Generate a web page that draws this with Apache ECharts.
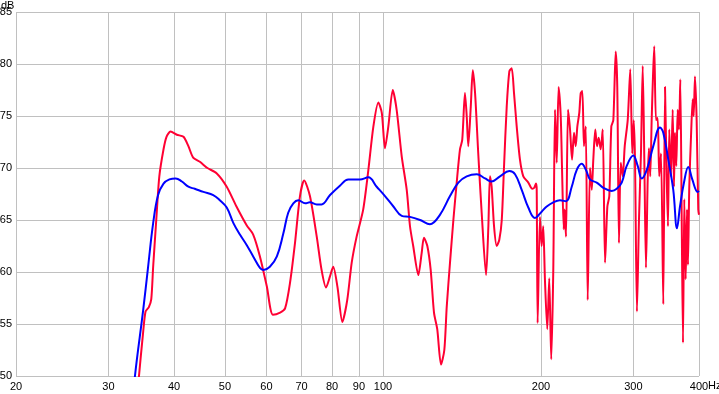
<!DOCTYPE html>
<html>
<head>
<meta charset="utf-8">
<script src="https://cdn.jsdelivr.net/npm/echarts@6/dist/echarts.min.js"></script>
<style>
    html, body { margin: 0; padding: 0; background: #fff; }
    #chart { width: 719px; height: 394px; }
</style>
</head>
<body>
<div id="chart"></div>
<script>
    // frequency ticks shown on the log axis (Hz)
    var freqTicks = [20, 30, 40, 50, 60, 70, 80, 90, 100, 200, 300, 400];

    // raw response: frequency (Hz) and level (dB)
    var rawFreq = [
        33.8, 34.3, 34.9, 35.3, 35.8, 36.2, 36.5, 37.0, 37.5, 38.2, 38.7, 39.4, 40.5, 41.7, 42.6, 43.5,
        44.8, 46.3, 48.2, 50.4, 52.6, 55.0, 56.6, 58.3, 60.1, 61.7, 63.7, 65.1, 66.5, 68.0, 69.5, 70.8,
        72.6, 74.8, 76.4, 77.9, 79.3, 80.4, 81.9, 83.7, 85.5, 87.2, 89.1, 91.7, 93.8, 95.9, 98.0, 99.5,
        100.9, 102.4, 104.4, 106.2, 108.6, 111.0, 112.6, 114.2, 116.8, 118.5, 119.7, 121.5, 123.3, 125.1,
        126.9, 129.0, 130.9, 132.3, 134.2, 136.2, 138.2, 140.2, 141.6, 143.3, 144.4, 145.4, 147.0, 148.3,
        149.8, 151.9, 154.2, 157.2, 158.8, 159.9, 161.1, 162.8, 164.7, 166.6, 168.4, 170.1, 172.1, 174.1,
        175.9, 177.7, 179.8, 182.4, 185.1, 189.2, 192.5, 194.2, 195.7, 196.3, 197.1, 199.1, 200.6, 202.0,
        203.5, 205.6, 207.4, 209.2, 211.1, 212.7, 214.3, 216.1, 218.1, 219.3, 221.0, 221.9, 223.2, 225.2,
        227.2, 229.2, 231.2, 232.9, 234.6, 236.6, 238.1, 239.8, 241.5, 243.4, 245.5, 248.0, 249.9, 251.6,
        253.8, 255.7, 257.6, 259.9, 262.2, 264.9, 267.6, 269.9, 272.3, 274.7, 277.6, 279.5, 281.6, 283.8,
        286.3, 288.8, 292.6, 295.9, 298.5, 300.4, 302.1, 304.7, 307.4, 310.1, 312.5, 314.7, 317.0, 319.4,
        321.2, 323.0, 325.0, 326.9, 328.7, 331.2, 333.7, 336.0, 338.6, 342.0, 344.6, 347.1, 349.1, 351.1,
        353.7, 356.4, 358.4, 360.0, 362.1, 364.3, 366.4, 368.5, 370.8, 372.9, 375.0, 377.3, 379.5, 381.1,
        383.3, 386.2, 389.1, 390.8, 393.0, 395.9, 398.7, 400
    ];
    var rawDb = [
        46, 50, 54, 56.2, 56.6, 57.4, 60.5, 65.0, 69.2, 71.8, 73.0, 73.5, 73.2, 73.0, 72.1, 71.0,
        70.6, 70.0, 69.5, 68.2, 66.3, 64.5, 63.6, 61.5, 58.6, 55.9, 56.1, 56.5, 58.9, 62.8, 67.3, 68.8,
        67.3, 63.4, 60.2, 58.5, 59.6, 60.5, 58.6, 55.2, 57.3, 60.9, 63.4, 66.0, 69.8, 74.0, 76.3, 75.3,
        71.9, 74.0, 77.5, 75.6, 71.1, 67.9, 64.4, 62.5, 59.7, 61.8, 63.3, 62.5, 60.2, 56.1,
        54.5, 51.1, 52.5, 56.7, 60.9, 65.0, 68.6, 71.8, 72.7, 77.2, 75.0, 72.1, 75.9, 79.4,
        77.2, 71.4, 65.7, 59.7, 64.4, 69.2, 68.2, 64.4, 62.5, 63.1, 65.0, 70.2, 75.9, 79.3,
        79.6, 77.2, 74.0, 70.8, 69.2, 68.6, 68.0, 68.1, 68.5, 67.9, 55.1, 65.3, 62.5, 64.4,
        59.3, 54.5, 59.4, 51.6, 60.2, 75.6, 70.5, 77.8, 75.0, 70.2, 64.1, 66.0, 63.4, 75.6,
        73.7, 70.8, 73.4, 72.1, 74.0, 75.3, 77.2, 77.4, 72.1, 74.0, 57.3, 70.0, 67.9, 70.8,
        73.7, 72.1, 72.9, 71.8, 73.7, 60.9, 66.3, 67.3, 74.0, 74.6, 81.2, 77.8, 62.8, 70.5,
        69.2, 72.1, 74.6, 79.5, 71.4, 74.6, 70.8, 56.2, 65.0, 71.4, 79.8, 70.8, 60.4, 68.9,
        71.9, 69.2, 74.6, 78.8, 81.7, 74.6, 74.8, 69.2, 71.4, 56.9, 77.8, 69.2, 64.4, 73.7,
        69.2, 75.6, 68.2, 73.4, 70.2, 75.6, 73.7, 78.5, 65.0, 53.2, 67.0, 59.3, 66.0, 60.7,
        68.2, 73.0, 76.6, 75.0, 78.8, 74.6, 66.0, 65.5
    ];

    // smoothed response
    var smoothFreq = [
        33.2, 33.7, 34.95, 35.7, 36.5, 37.3, 38.2, 39.2, 40.3, 41.4, 42.6, 43.8, 45.5, 47.5, 48.9, 50.4,
        51.9, 53.4, 55.0, 56.6, 58.3, 59.2, 60.9, 62.8, 64.6, 66.0, 67.5, 69.0, 71.1, 72.6, 74.8, 76.4,
        79.3, 82.8, 85.9, 90.4, 93.8, 97.3, 100.9, 104.7, 108.6, 112.6, 117.7, 122.9, 128.4, 134.2,
        139.2, 144.4, 150.9, 156.5, 161.1, 167.1, 174.1, 178.5, 183.8, 189.2, 194.8, 200.6, 205.1, 211.1,
        217.4, 223.2, 228.9, 233.9, 239.1, 243.7, 248.0, 255.4, 262.9, 272.8, 278.8, 285.0, 291.3, 299.8,
        305.7, 311.1, 318.0, 327.3, 337.1, 342.0, 349.6, 357.3, 363.2, 368.0, 374.5, 381.6, 388.4, 397.7, 400
    ];
    var smoothDb = [
        46, 50, 56.4, 60.5, 64.7, 67.4, 68.5, 68.9, 69.0, 68.7, 68.2, 68.0, 67.7, 67.4, 66.9, 66.2,
        64.7, 63.6, 62.6, 61.5, 60.4, 60.2, 60.5, 61.5, 63.7, 65.7, 66.6, 66.9, 66.6, 66.7, 66.5, 66.5,
        67.4, 68.3, 68.9, 68.9, 69.1, 68.2, 67.3, 66.3, 65.4, 65.3, 65.0, 64.6, 65.5, 67.3,
        68.6, 69.2, 69.4, 69.0, 68.7, 69.2, 69.7, 69.4, 67.9, 66.2, 65.2, 65.8, 66.3, 66.7,
        66.9, 66.8, 68.2, 69.8, 70.4, 69.8, 68.9, 68.6, 68.1, 67.8, 68.0, 68.6, 70.2, 71.2,
        70.2, 69.0, 69.8, 72.1, 73.9, 73.4, 70.8, 67.9, 64.2, 66.3, 68.6, 70.1, 68.9, 67.7, 67.8
    ];

    function pairs(xs, ys) {
        return xs.map(function (x, i) { return [x, ys[i]]; });
    }

    var gridColor = '#c0c0c0';
    var font = { color: '#000', fontSize: 11, fontFamily: 'Liberation Sans, Arial, sans-serif' };

    var chart = echarts.init(document.getElementById('chart'), null, { renderer: 'canvas' });

    chart.setOption({
        animation: false,
        grid: { left: 16, right: 20, top: 12, bottom: 18, containLabel: false, outerBoundsMode: 'none' },
        // unit label of the level axis, placed above the "85" tick
        graphic: [{
            type: 'text',
            left: 1,
            top: 0,
            style: { text: 'dB', fill: font.color, font: '11px Liberation Sans, Arial, sans-serif' }
        }],
        xAxis: {
            type: 'log',
            logBase: 10,
            min: 20,
            max: 400,
            name: 'Hz',
            nameLocation: 'end',
            nameGap: 9,
            nameMoveOverlap: false,
            nameTextStyle: Object.assign({ align: 'left', verticalAlign: 'top', padding: [4, 0, 0, 0] }, font),
            axisLine: { show: false },
            axisTick: { show: false, customValues: freqTicks },
            axisLabel: Object.assign({ customValues: freqTicks, margin: 5, formatter: function (v) { return String(Math.round(v)); } }, font),
            splitLine: { show: true, lineStyle: { color: gridColor, width: 1 } }
        },
        yAxis: {
            type: 'value',
            min: 50,
            max: 85,
            interval: 5,
            axisLine: { show: false },
            axisTick: { show: false },
            axisLabel: Object.assign({ margin: 4 }, font),
            splitLine: { show: true, lineStyle: { color: gridColor, width: 1 } }
        },
        series: [
            {
                name: 'raw',
                type: 'line',
                data: pairs(rawFreq, rawDb),
                showSymbol: false,
                smooth: 0.25,
                clip: true,
                lineStyle: { color: '#ff0033', width: 2 }
            },
            {
                name: 'smoothed',
                type: 'line',
                data: pairs(smoothFreq, smoothDb),
                showSymbol: false,
                smooth: 0.4,
                clip: true,
                lineStyle: { color: '#0000ff', width: 2 }
            }
        ]
    });

    window.addEventListener('resize', function () {
        chart.resize();
    });
</script>
</body>
</html>
